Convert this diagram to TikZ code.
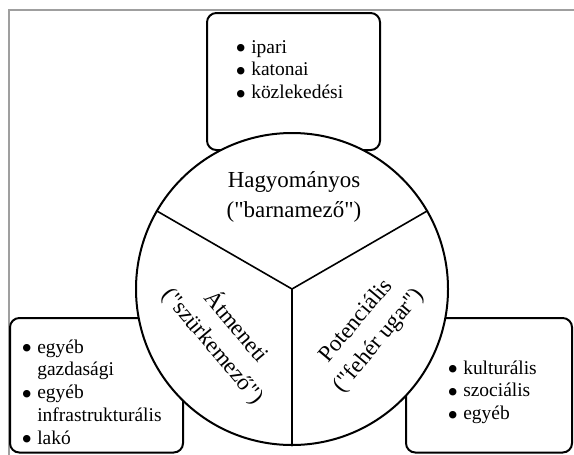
\documentclass[tikz,border=0pt]{standalone}
\usepackage{fontspec}
\setmainfont{Liberation Serif}
\newcommand{\itm}{\makebox[12pt][l]{\raisebox{-0.27em}{\scalebox{1.6}{\textbullet}}}}
\newcommand{\hang}{\makebox[12pt][l]{}}
\newcommand{\qq}{\textquotedbl}
\begin{document}
\begin{tikzpicture}[x=0.75pt,y=-0.75pt,
  box/.style={line width=1.5pt,rounded corners=7pt},
  lbl/.style={inner sep=0pt,align=center,font=\fontsize{17.2}{22.5}\selectfont},
  lst/.style={inner sep=0pt,anchor=base west,font=\fontsize{14.6}{17.2}\selectfont}]
 \clip (0,0) rectangle (574,454);
 % frame
 \draw[gray!75,line width=1.5pt] (9,10) rectangle (590,470);
 % boxes
 \draw[box] (207,13) rectangle (380,150);
 \draw[box] (10,318) rectangle (183,452.5);
 \draw[box] (406,318) rectangle (572,452.5);
 % circle with spokes
 \node[circle,draw,line width=1.5pt,fill=white,minimum size=234pt,inner sep=0pt] (wheel) at (292,289) {};
 \draw[line width=1.2pt] (wheel.150) -- (wheel.center) -- (wheel.30) (wheel.center) -- (wheel.270);
 % labels
 \node[lbl] (trad) at (294,197) {Hagyományos\\(\qq barnamező\qq)};
 \node[lbl,rotate=-50] (trans) at (225,336) {Átmeneti\\(\qq szürkemező\qq)};
 \node[lbl,rotate=50] (pot) at (368,331) {Potenciális\\(\qq fehér ugar\qq)};
 % lists
 \node[lst] (tradlist) at (235,53) {\begin{tabular}[t]{@{}l@{}}\itm ipari\\ \itm katonai\\ \itm közlekedési\end{tabular}};
 \node[lst] (translist) at (21,353) {\begin{tabular}[t]{@{}l@{}}\itm egyéb\\ \hang gazdasági\\ \itm egyéb\\ \hang infrastrukturális\\ \itm lakó\end{tabular}};
 \node[lst] (potlist) at (447,374) {\begin{tabular}[t]{@{}l@{}}\itm kulturális\\ \itm szociális\\ \itm egyéb\end{tabular}};
\end{tikzpicture}
\end{document}
